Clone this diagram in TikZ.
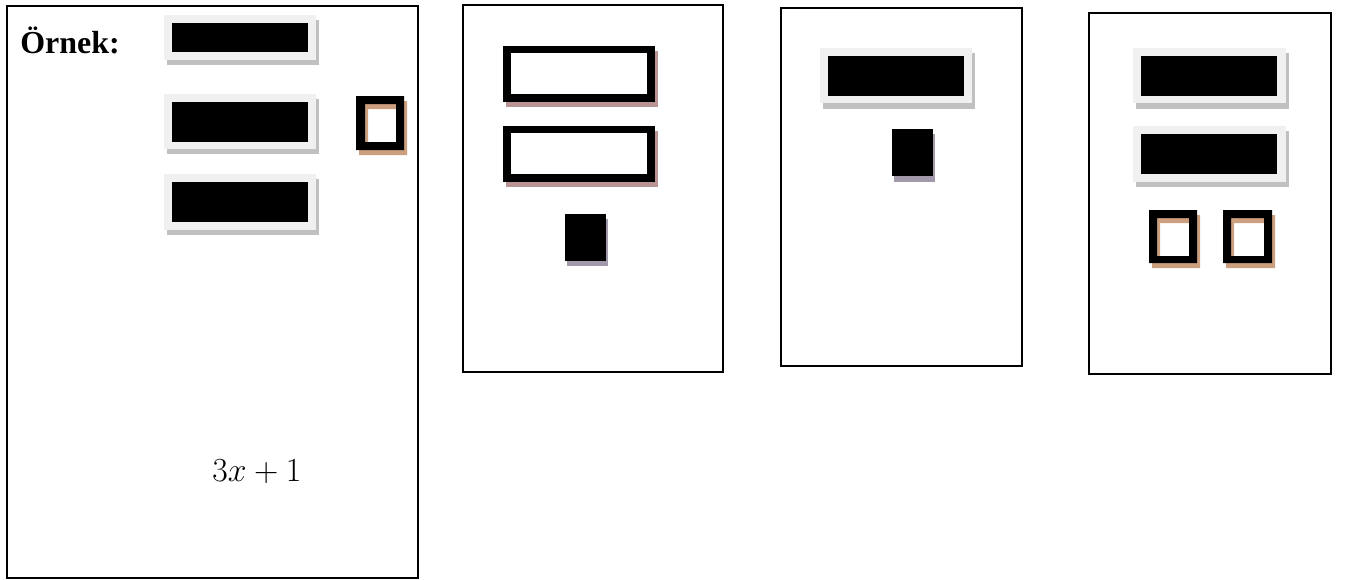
\RequirePackage{fix-cm}
\documentclass[tikz,border=0pt]{standalone}
\usepackage{fontspec}
\setmainfont{Liberation Serif}
\definecolor{tilegray}{HTML}{F0F0F0}
\definecolor{shadowgray}{HTML}{C0C0C0}
\definecolor{tanshadow}{HTML}{CCA07E}
\definecolor{rosyshadow}{HTML}{B89494}
\definecolor{lilacshadow}{HTML}{A299AB}
\tikzset{
  panel/.style={draw=black, line width=0.04cm},
  pad/.style={fill=tilegray},
  padshadow/.style={fill=shadowgray},
  ink/.style={fill=black},
  ring/.style={fill=black, even odd rule},
  tanring/.style={fill=tanshadow, even odd rule},
  rosyback/.style={fill=rosyshadow},
  lilacback/.style={fill=lilacshadow},
  hole/.style={fill=white}
}
\begin{document}
\begin{tikzpicture}[x=0.02cm, y=-0.02cm]
\useasboundingbox (0,0) rectangle (1347,579);
% panels
\draw[panel] (7,6) rectangle (418,578);
\draw[panel] (463,5) rectangle (723,372);
\draw[panel] (781,8) rectangle (1022,366);
\draw[panel] (1089,13) rectangle (1331,374);

% panel 1
\node[anchor=base west, inner sep=0pt, font=\fontsize{18.2}{20}\selectfont\bfseries] (ornek) at (20,53) {Örnek:};
\fill[padshadow] (167,20) rectangle (319,65);
\fill[pad] (164,15) rectangle (316,60);
\fill[ink] (172,23) rectangle (308,52);
\fill[padshadow] (167,99) rectangle (319,154);
\fill[pad] (164,94) rectangle (316,149);
\fill[ink] (172,102) rectangle (308,142);
\fill[padshadow] (167,179) rectangle (319,235);
\fill[pad] (164,174) rectangle (316,230);
\fill[ink] (172,182) rectangle (308,222);
\fill[tanring] (359,101) rectangle (407,155) (368,109) rectangle (399,147);
\fill[ring] (356,96) rectangle (404,150) (365,104) rectangle (396,142);
\node[anchor=base west, inner sep=0pt, font=\fontsize{19.2}{22}\selectfont] (expr) at (212,481) {$3x+1$};

% panel 2
\fill[rosyback] (506,51) rectangle (658,107);
\fill[ink] (503,46) rectangle (655,102);
\fill[hole] (511,53) rectangle (647,94);
\fill[rosyback] (506,131) rectangle (658,187);
\fill[ink] (503,126) rectangle (655,182);
\fill[hole] (511,133) rectangle (647,174);
\fill[lilacback] (567,219) rectangle (608,266);
\fill[ink] (565,214) rectangle (606,261);

% panel 3
\fill[padshadow] (823,53) rectangle (975,109);
\fill[pad] (820,48) rectangle (972,103);
\fill[ink] (828,56) rectangle (964,96);
\fill[lilacback] (894,134) rectangle (935,182);
\fill[ink] (892,129) rectangle (933,176);

% panel 4
\fill[padshadow] (1136,53) rectangle (1289,109);
\fill[pad] (1133,48) rectangle (1286,103);
\fill[ink] (1141,56) rectangle (1277,96);
\fill[padshadow] (1136,131) rectangle (1289,187);
\fill[pad] (1133,126) rectangle (1286,182);
\fill[ink] (1141,134) rectangle (1277,174);
\fill[tanring] (1152,215) rectangle (1200,268) (1160,223) rectangle (1192,261);
\fill[ring] (1149,210) rectangle (1197,263) (1157,218) rectangle (1189,256);
\fill[tanring] (1226,215) rectangle (1275,268) (1234,223) rectangle (1267,261);
\fill[ring] (1223,210) rectangle (1272,263) (1231,218) rectangle (1264,256);
\end{tikzpicture}
\end{document}
